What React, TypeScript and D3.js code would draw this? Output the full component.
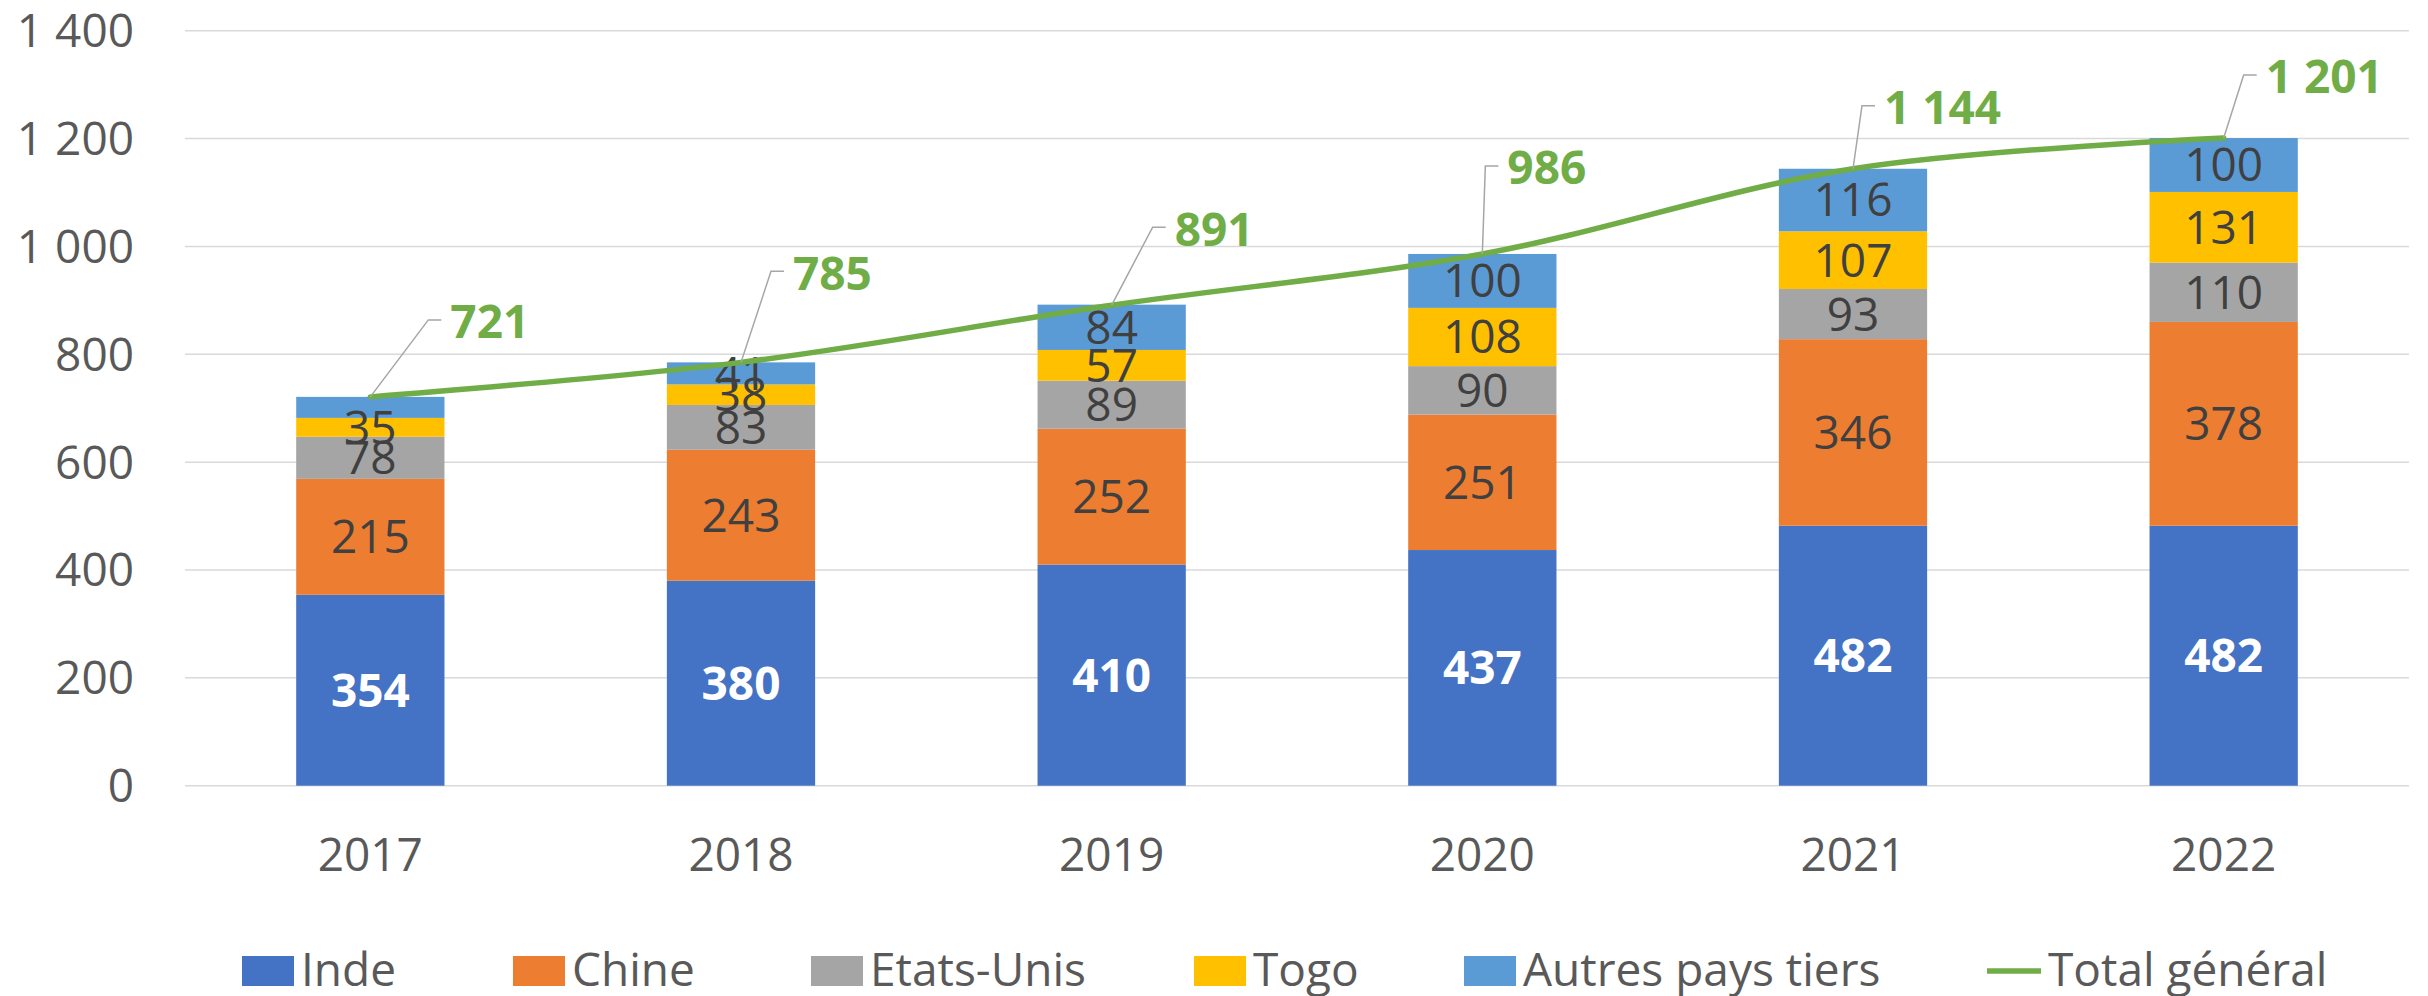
import React from "react";
import * as d3 from "d3";

const YEARS = ["2017", "2018", "2019", "2020", "2021", "2022"];
const INDE = [354, 380, 410, 437, 482, 482];
const CHINE = [215, 243, 252, 251, 346, 378];
const ETATS_UNIS = [78, 83, 89, 90, 93, 110];
const TOGO = [35, 38, 57, 108, 107, 131];
const AUTRES = [39, 41, 84, 100, 116, 100];
const TOTAL = [721, 785, 891, 986, 1144, 1201];
const Y_TICKS = [0, 200, 400, 600, 800, 1000, 1200, 1400];
const SERIES_NAMES = ["Inde", "Chine", "Etats-Unis", "Togo", "Autres pays tiers"];
const TOTAL_NAME = "Total général";
// labels not displayed in the original: [seriesIndex, yearIndex]
const HIDDEN_LABELS = [[4, 0]];

const COLORS = ["#4472C4", "#ED7D31", "#A5A5A5", "#FFC000", "#5B9BD5"];
const GREEN = "#70AD47";
// placement of total labels relative to their point (dx to text left, dy to text centre)
const TOTAL_LABEL_OFFSETS = [
  [80, -75],
  [52, -89],
  [63, -76],
  [25, -86],
  [31, -61],
  [42, -61],
];

const W = 2428;
const H = 996;
const FONT = "'Open Sans', 'Noto Sans', sans-serif";
const FS = 46;
const CAP = FS * 0.714;

const fmt = (v: number) => {
  const s = String(v);
  return s.length > 3 ? s.slice(0, s.length - 3) + " " + s.slice(-3) : s;
};

export default function App() {
  const x = d3.scaleBand<string>().domain(YEARS).range([185, 2409]).paddingInner(0.6).paddingOuter(0.3);
  const y = d3.scaleLinear().domain([0, 1400]).range([785.7, 30.7]);
  const seriesData = [INDE, CHINE, ETATS_UNIS, TOGO, AUTRES];
  const table = YEARS.map((yr, i) => {
    const o: any = { year: yr };
    SERIES_NAMES.forEach((n, s) => (o[n] = seriesData[s][i]));
    return o;
  });
  const stacked = d3.stack<any>().keys(SERIES_NAMES)(table);
  const cx = (yr: string) => (x(yr) as number) + x.bandwidth() / 2;
  const line = d3
    .line<number>()
    .x((_, i) => cx(YEARS[i]))
    .y((d) => y(d))
    .curve(d3.curveCatmullRom.alpha(0.5));

  const isHidden = (s: number, i: number) => HIDDEN_LABELS.some(([a, b]) => a === s && b === i);

  const legendItems = [
    { name: SERIES_NAMES[0], x: 242, color: COLORS[0] },
    { name: SERIES_NAMES[1], x: 513, color: COLORS[1] },
    { name: SERIES_NAMES[2], x: 811, color: COLORS[2] },
    { name: SERIES_NAMES[3], x: 1194, color: COLORS[3] },
    { name: SERIES_NAMES[4], x: 1464, color: COLORS[4] },
  ];

  return (
    <svg
      width={W}
      height={H}
      style={{ position: "absolute", left: 0, top: 0, display: "block", background: "#fff" }}
      fontFamily={FONT}
    >
      {/* gridlines */}
      {Y_TICKS.map((t) => (
        <line key={"g" + t} x1={185} x2={2409} y1={y(t)} y2={y(t)} stroke="#D9D9D9" strokeWidth={1.5} />
      ))}
      {/* y tick labels */}
      {Y_TICKS.map((t) => (
        <text key={"yt" + t} x={134} y={y(t) + CAP / 2} textAnchor="end" fontSize={FS} fill="#595959">
          {fmt(t)}
        </text>
      ))}
      {/* x labels */}
      {YEARS.map((yr) => (
        <text key={"xl" + yr} x={cx(yr)} y={871} textAnchor="middle" fontSize={FS} fill="#595959">
          {yr}
        </text>
      ))}
      {/* bars */}
      {stacked.map((layer, s) =>
        layer.map((d, i) => (
          <rect
            key={`b${s}-${i}`}
            x={x(YEARS[i])}
            width={x.bandwidth()}
            y={y(d[1])}
            height={y(d[0]) - y(d[1])}
            fill={COLORS[s]}
          />
        ))
      )}
      {/* segment labels */}
      {stacked.map((layer, s) =>
        layer.map((d, i) =>
          isHidden(s, i) ? null : (
            <text
              key={`l${s}-${i}`}
              x={cx(YEARS[i])}
              y={y((d[0] + d[1]) / 2) + CAP / 2}
              textAnchor="middle"
              fontSize={FS}
              fontWeight={s === 0 ? 700 : 400}
              fill={s === 0 ? "#FFFFFF" : "#404040"}
            >
              {fmt(d[1] - d[0])}
            </text>
          )
        )
      )}
      {/* total line */}
      <path d={line(TOTAL) || ""} fill="none" stroke={GREEN} strokeWidth={5.5} strokeLinecap="round" />
      {/* total labels with leader lines */}
      {TOTAL.map((v, i) => {
        const px = cx(YEARS[i]);
        const py = y(v);
        const [dx, dy] = TOTAL_LABEL_OFFSETS[i];
        const tx = px + dx;
        const ty = py + dy;
        return (
          <g key={"t" + i}>
            <polyline
              points={`${px},${py} ${tx - 22},${ty - 2} ${tx - 9},${ty - 2}`}
              fill="none"
              stroke="#A6A6A6"
              strokeWidth={1.5}
            />
            <text x={tx} y={ty + CAP / 2} fontSize={FS} fontWeight={700} fill={GREEN}>
              {fmt(v)}
            </text>
          </g>
        );
      })}
      {/* legend */}
      {legendItems.map((it) => (
        <g key={"lg" + it.name}>
          <rect x={it.x} y={956} width={52} height={30} fill={it.color} />
          <text x={it.x + 59} y={986} fontSize={FS} fill="#595959">
            {it.name}
          </text>
        </g>
      ))}
      <line x1={1987} x2={2041} y1={971} y2={971} stroke={GREEN} strokeWidth={5.5} />
      <text x={2048} y={986} fontSize={FS} fill="#595959">
        {TOTAL_NAME}
      </text>
    </svg>
  );
}
